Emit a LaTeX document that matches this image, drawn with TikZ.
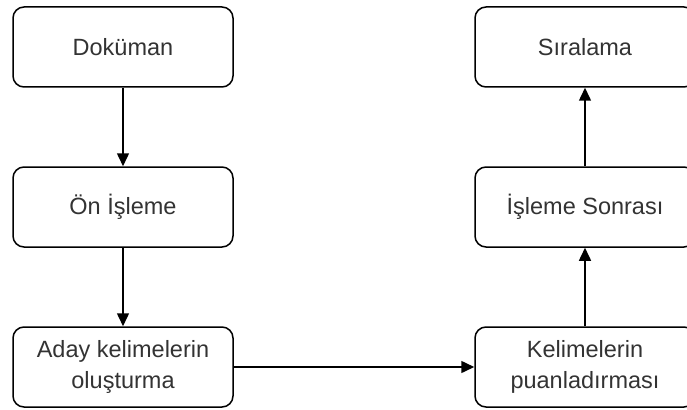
\documentclass[tikz,border=0pt]{standalone}
\usepackage{fontspec}
\setmainfont{Liberation Sans}
\usetikzlibrary{arrows.meta}
\definecolor{txt}{HTML}{333333}
\tikzset{
  stage/.style={draw=black, line width=1.5pt, rounded corners=11pt, fill=white,
    minimum width=220pt, minimum height=80pt, align=center, inner sep=0pt,
    text=txt, font=\fontsize{23.5}{31}\selectfont},
  flow/.style={line width=1.5pt, -{Triangle[length=13pt,width=12pt]}}
}
\begin{document}
\begin{tikzpicture}[x=1pt,y=-1pt]
  \useasboundingbox (0,0) rectangle (687,409);
  % left column
  \node[stage] (doc)  at (123,47)  {Doküman};
  \node[stage] (pre)  at (123,207) {Ön İşleme};
  \node[stage] (cand) at (123,367) {Aday kelimelerin\\oluşturma};
  % right column
  \node[stage] (score) at (585,367) {Kelimelerin\\puanladırması};
  \node[stage] (post)  at (585,207) {İşleme Sonrası};
  \node[stage] (rank)  at (585,47)  {Sıralama};
  % connectors
  \draw[flow] (doc) -- (pre);
  \draw[flow] (pre) -- (cand);
  \draw[flow] (cand) -- (score);
  \draw[flow] (score) -- (post);
  \draw[flow] (post) -- (rank);
\end{tikzpicture}
\end{document}
